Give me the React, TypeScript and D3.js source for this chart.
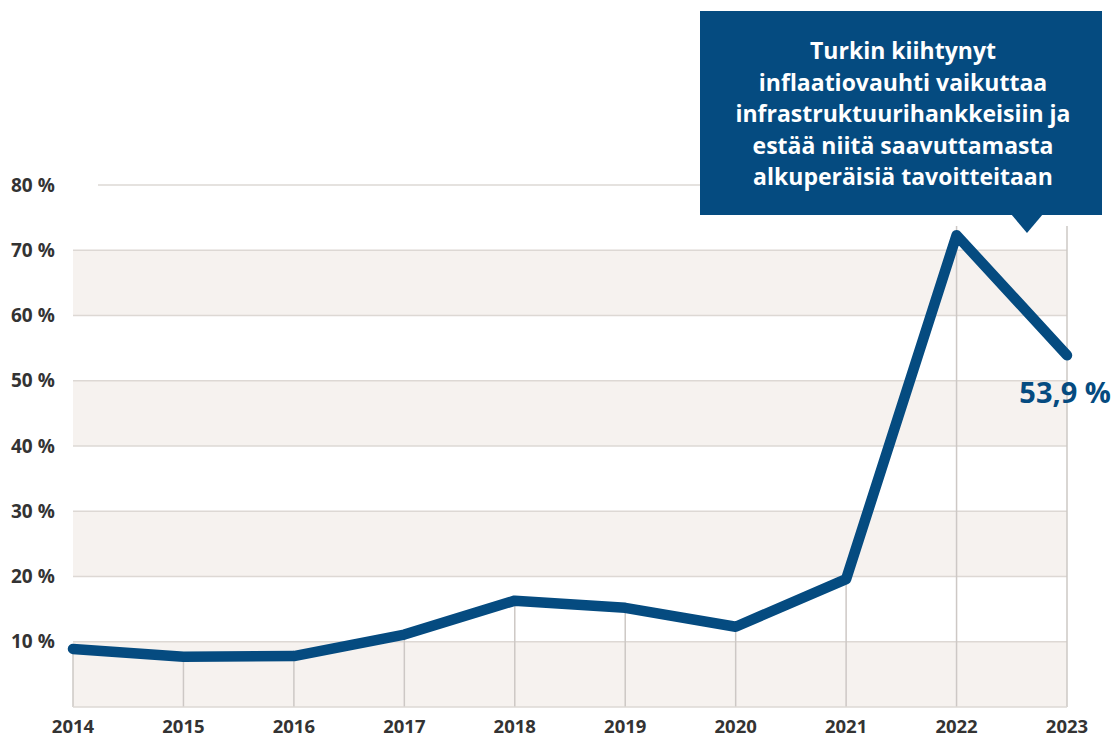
import React from "react";
import * as d3 from "d3";

const width = 1115;
const height = 740;
const margin = { top: 185, right: 47, bottom: 33, left: 73 };

const years = [2014, 2015, 2016, 2017, 2018, 2019, 2020, 2021, 2022, 2023];
const inflation = [8.9, 7.7, 7.8, 11.1, 16.3, 15.2, 12.3, 19.6, 72.3, 53.9];
const yTicks = [10, 20, 30, 40, 50, 60, 70, 80];
const bands = [0, 20, 40, 60];
const calloutLines = [
  "Turkin kiihtynyt",
  "inflaatiovauhti vaikuttaa",
  "infrastruktuurihankkeisiin ja",
  "estää niitä saavuttamasta",
  "alkuperäisiä tavoitteitaan",
];
const lastLabel = "53,9 %";

const blue = "#054b80";
const gridColor = "#ddd8d4";
const bandColor = "#f6f2ef";
const textColor = "#333333";
const font = "'Open Sans', sans-serif";

const x = d3
  .scaleLinear()
  .domain([2014, 2023])
  .range([margin.left, width - margin.right - 1]);

const y = d3
  .scaleLinear()
  .domain([0, 80])
  .range([height - margin.bottom, margin.top]);

const line = d3
  .line<number>()
  .x((d, i) => x(years[i]))
  .y((d) => y(d));

export default function App() {
  const x0 = x(2014);
  const x1 = x(2023);
  const bx = 700;
  const bw = 402;
  const tipX = 1027;
  return (
    <svg width={width} height={height} style={{ position: "absolute", left: 0, top: 0 }}>
      {/* bands */}
      {bands.map((b) => (
        <rect key={b} x={x0} y={y(b + 10)} width={x1 - x0} height={y(b) - y(b + 10)} fill={bandColor} />
      ))}
      {/* horizontal grid */}
      {yTicks.map((t) => (
        <line
          key={t}
          x1={t === 80 ? 98 : x0}
          x2={x1}
          y1={y(t)}
          y2={y(t)}
          stroke={gridColor}
          strokeWidth={1.5}
        />
      ))}
      {/* drop lines */}
      {years.map((yr, i) => (
        <line
          key={yr}
          x1={x(yr)}
          x2={x(yr)}
          y1={y(0)}
          y2={i >= 8 ? y(73.7) : y(inflation[i])}
          stroke="#cdc8c5"
          strokeWidth={1.5}
        />
      ))}
      <line x1={x0} x2={x1} y1={y(0)} y2={y(0)} stroke={gridColor} strokeWidth={1.5} />
      {/* y labels */}
      {yTicks.map((t) => (
        <text
          key={t}
          x={11}
          y={y(t)}
          dy="0.35em"
          fontFamily={font}
          fontWeight={700}
          fontSize={19}
          fill={textColor}
        >
          {`${t} %`}
        </text>
      ))}
      {/* x labels */}
      {years.map((yr) => (
        <text
          key={yr}
          x={x(yr)}
          y={733}
          textAnchor="middle"
          fontFamily={font}
          fontWeight={700}
          fontSize={18.5}
          fill={textColor}
        >
          {yr}
        </text>
      ))}
      {/* line */}
      <path
        d={line(inflation) ?? ""}
        fill="none"
        stroke={blue}
        strokeWidth={10.5}
        strokeLinejoin="round"
        strokeLinecap="round"
      />
      <text
        x={1111}
        y={403}
        textAnchor="end"
        fontFamily={font}
        fontWeight={700}
        fontSize={29}
        fill={blue}
      >
        {lastLabel}
      </text>
      {/* callout */}
      <rect x={bx} y={11} width={bw} height={204} fill={blue} />
      <path d={`M${tipX - 16},214 L${tipX + 16},214 L${tipX},233 Z`} fill={blue} />
      {calloutLines.map((l, i) => (
        <text
          key={i}
          x={bx + bw / 2 + 2}
          y={59 + i * 31.5}
          textAnchor="middle"
          fontFamily={font}
          fontWeight={700}
          fontSize={23}
          fill="#ffffff"
        >
          {l}
        </text>
      ))}
    </svg>
  );
}
